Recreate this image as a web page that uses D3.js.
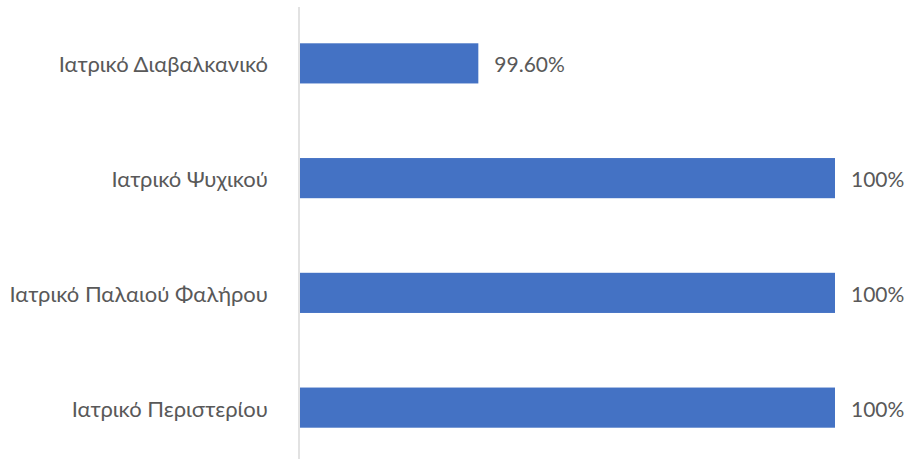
<!DOCTYPE html>
<html>
<head>
<meta charset="utf-8">
<script src="https://cdn.jsdelivr.net/npm/d3@7"></script>
<style>
  body { margin: 0; background: #fff; }
  text { font-family: Lato, "Open Sans", sans-serif; fill: #595959; }
</style>
</head>
<body>
<div id="chart"></div>
<script>
  // Κατηγορίες και τιμές (ποσοστά)
  const categories = ['Ιατρικό Διαβαλκανικό', 'Ιατρικό Ψυχικού', 'Ιατρικό Παλαιού Φαλήρου', 'Ιατρικό Περιστερίου'];
  const values = [0.996, 1.0, 1.0, 1.0];
  const valueLabels = ['99.60%', '100%', '100%', '100%'];

  const width = 907, height = 459;
  const svg = d3.select('#chart')
    .append('svg')
    .attr('width', width)
    .attr('height', height);

  // x axis starts at 99.4% (as in the original chart)
  const x = d3.scaleLinear().domain([0.994, 1.0]).range([300, 835]);
  const y = d3.scaleBand().domain(categories).range([6, 465]).paddingInner(0.65).paddingOuter(0.325);

  // bars
  svg.selectAll('.bar')
    .data(categories)
    .enter()
    .append('rect')
    .attr('class', 'bar')
    .attr('x', x(0.994))
    .attr('y', d => y(d))
    .attr('width', (d, i) => x(values[i]) - x(0.994))
    .attr('height', y.bandwidth())
    .attr('fill', '#4472C4');

  // vertical axis line
  svg.append('line')
    .attr('x1', 299).attr('x2', 299)
    .attr('y1', 7).attr('y2', height)
    .attr('stroke', '#d9d9d9')
    .attr('stroke-width', 1.5);

  // category labels
  svg.selectAll('.cat')
    .data(categories)
    .enter()
    .append('text')
    .attr('class', 'cat')
    .attr('x', 268)
    .attr('y', d => y(d) + y.bandwidth() / 2 + 9)
    .attr('text-anchor', 'end')
    .style('font-size', '22px')
    .text(d => d);

  // data labels
  svg.selectAll('.val')
    .data(categories)
    .enter()
    .append('text')
    .attr('class', 'val')
    .attr('x', (d, i) => x(values[i]) + 16)
    .attr('y', d => y(d) + y.bandwidth() / 2 + 9)
    .style('font-size', '21px')
    .text((d, i) => valueLabels[i]);
</script>
</body>
</html>
